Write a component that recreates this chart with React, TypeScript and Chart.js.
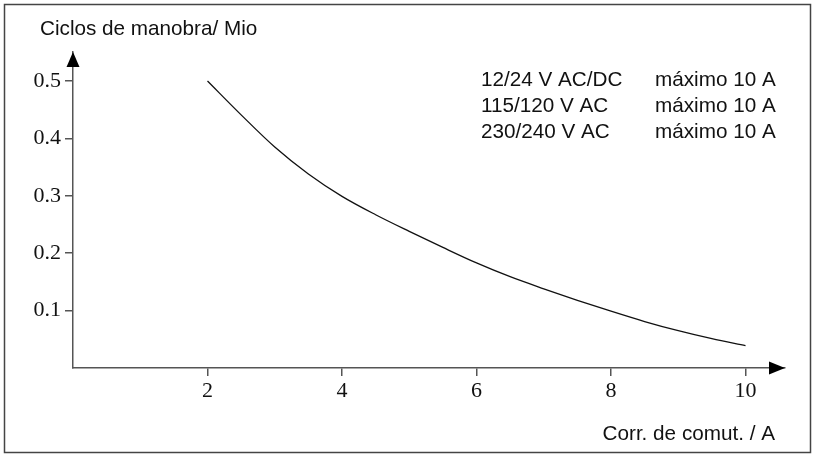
import React, { useEffect, useRef } from "react";
import { Chart, registerables } from "chart.js";

Chart.register(...registerables);

// ---- data ----
const currentA = [2, 2.5, 3, 3.5, 4, 4.5, 5, 5.5, 6, 6.5, 7, 7.5, 8, 8.5, 9, 9.5, 10];
const cyclesMio = [0.5, 0.441, 0.385, 0.338, 0.299, 0.267, 0.238, 0.21, 0.183, 0.159, 0.138, 0.118, 0.099, 0.081, 0.065, 0.051, 0.039];
const xTickValues = [2, 4, 6, 8, 10];
const yTickValues = [0.1, 0.2, 0.3, 0.4, 0.5];
const yAxisTitle = "Ciclos de manobra/ Mio";
const xAxisTitle = "Corr. de comut. / A";
const voltageLabels = ["12/24 V AC/DC", "115/120 V AC", "230/240 V AC"];
const maxCurrentLabels = ["máximo 10 A", "máximo 10 A", "máximo 10 A"];

const W = 813;
const H = 455;
const SANS = "'Liberation Sans', Arial, Helvetica, sans-serif";
const SERIF = "'Liberation Serif', 'Times New Roman', serif";
const AXIS_COLOR = "#555";

const decorPlugin = {
  id: "decor",
  afterDraw(chart: any) {
    const ctx = chart.ctx as CanvasRenderingContext2D;
    const a = chart.chartArea;
    ctx.save();
    // outer frame
    ctx.strokeStyle = "#444";
    ctx.lineWidth = 1.5;
    ctx.strokeRect(4.5, 4.5, W - 7, H - 7);

    // arrows
    ctx.fillStyle = "#000";
    const yx = chart.scales.x.left;
    ctx.beginPath();
    ctx.moveTo(yx, a.top);
    ctx.lineTo(yx - 6.5, a.top + 15);
    ctx.lineTo(yx + 6.5, a.top + 15);
    ctx.closePath();
    ctx.fill();
    const xy = chart.scales.y.bottom;
    ctx.beginPath();
    ctx.moveTo(a.right, xy);
    ctx.lineTo(a.right - 16, xy - 6.5);
    ctx.lineTo(a.right - 16, xy + 6.5);
    ctx.closePath();
    ctx.fill();

    // texts
    ctx.fillStyle = "#111";
    ctx.font = `20.7px ${SANS}`;
    ctx.textBaseline = "alphabetic";
    ctx.textAlign = "left";
    ctx.fillText(yAxisTitle, 40, 35);
    ctx.textAlign = "right";
    ctx.fillText(xAxisTitle, 775, 439.5);
    ctx.textAlign = "left";
    voltageLabels.forEach((t, i) => {
      ctx.fillText(t, 481, 86 + i * 25.8);
    });
    maxCurrentLabels.forEach((t, i) => {
      ctx.fillText(t, 655, 86 + i * 25.8);
    });
    ctx.restore();
  },
};

export default function App() {
  const canvasRef = useRef<HTMLCanvasElement | null>(null);

  useEffect(() => {
    const canvas = canvasRef.current;
    if (!canvas) return;
    const chart = new Chart(canvas, {
      type: "line",
      data: {
        datasets: [
          {
            data: currentA.map((x, i) => ({ x, y: cyclesMio[i] })),
            borderColor: "#111",
            borderWidth: 1.3,
            pointRadius: 0,
            fill: false,
            cubicInterpolationMode: "monotone",
          },
        ],
      },
      options: {
        responsive: false,
        animation: false,
        devicePixelRatio: 1,
        layout: { padding: { top: 52, right: 28, left: 0, bottom: 0 } },
        plugins: { legend: { display: false }, tooltip: { enabled: false } },
        scales: {
          x: {
            type: "linear",
            min: 0,
            max: 10.587,
            afterFit(s: any) {
              s.height = H - 368;
            },
            afterBuildTicks(s: any) {
              s.ticks = xTickValues.map((v) => ({ value: v }));
            },
            border: { display: true, color: AXIS_COLOR, width: 1.5 },
            grid: { display: true, drawOnChartArea: false, drawTicks: true, tickLength: 8, color: AXIS_COLOR, lineWidth: 1.5 },
            ticks: {
              padding: 2,
              maxRotation: 0,
              autoSkip: false,
              color: "#111",
              font: { family: SERIF, size: 22 },
              callback: (v: any) => String(v),
            },
          },
          y: {
            type: "linear",
            min: 0,
            max: 0.5505,
            afterFit(s: any) {
              s.width = 73;
            },
            afterBuildTicks(s: any) {
              s.ticks = yTickValues.map((v) => ({ value: v }));
            },
            border: { display: true, color: AXIS_COLOR, width: 1.5 },
            grid: { display: true, drawOnChartArea: false, drawTicks: true, tickLength: 8, color: AXIS_COLOR, lineWidth: 1.5 },
            ticks: {
              padding: 4,
              autoSkip: false,
              color: "#111",
              font: { family: SERIF, size: 22 },
              callback: (v: any) => Number(v).toFixed(1),
            },
          },
        },
      },
      plugins: [decorPlugin],
    } as any);
    return () => chart.destroy();
  }, []);

  return (
    <div style={{ position: "absolute", left: 0, top: 0, width: W, height: H, background: "#fff" }}>
      <canvas ref={canvasRef} width={W} height={H} style={{ display: "block", width: W, height: H }} />
    </div>
  );
}
